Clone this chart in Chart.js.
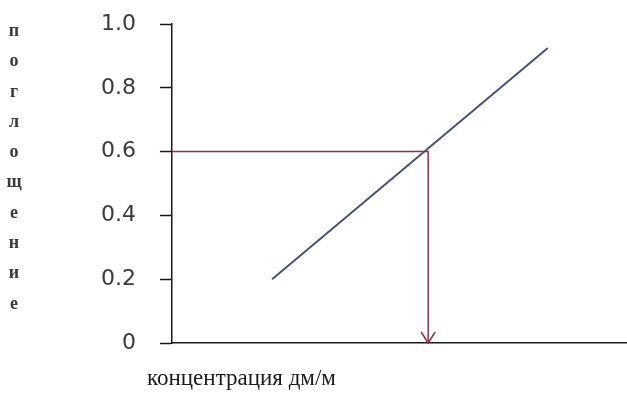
<!DOCTYPE html>
<html>
<head>
<meta charset="utf-8">
<script src="https://cdn.jsdelivr.net/npm/chart.js@4"></script>
<style>
html,body{margin:0;padding:0;background:#fff;}
#wrap{position:relative;width:627px;height:403px;}
#yl{position:absolute;left:6px;top:15px;width:16px;font-family:"Liberation Serif",serif;font-size:18px;font-weight:bold;line-height:30.3px;color:#3a3a3a;text-align:center;}
#xl{position:absolute;left:147px;top:365px;font-family:"Liberation Serif",serif;font-size:23px;line-height:26px;color:#1a1a1a;white-space:nowrap;}
</style>
</head>
<body>
<div id="wrap">
<canvas id="c" width="627" height="403"></canvas>
<div id="yl"></div>
<div id="xl"></div>
</div>
<script>
const yTitle = "поглощение";
const xTitle = "концентрация дм/м";
const yTicks = [0, 0.2, 0.4, 0.6, 0.8, 1.0];
const yTickLabels = ["0", "0.2", "0.4", "0.6", "0.8", "1.0"];
const calibX = [2.2, 8.26];
const calibY = [0.2, 0.925];
const readX = [0, 5.63, 5.63];
const readY = [0.6, 0.6, 0];

document.getElementById('yl').innerHTML = yTitle.split('').map(c => '<div>' + c + '</div>').join('');
document.getElementById('xl').textContent = xTitle;

const toPts = (xs, ys) => xs.map((x, i) => ({x: x, y: ys[i]}));

const arrowPlugin = {
  id: 'arrow',
  afterDatasetsDraw(chart) {
    const meta = chart.getDatasetMeta(1);
    const pts = meta.data;
    const p = pts[pts.length - 1];
    const ctx = chart.ctx;
    ctx.save();
    ctx.strokeStyle = '#8a3344';
    ctx.lineWidth = 1.5;
    ctx.beginPath();
    ctx.moveTo(p.x - 7, p.y - 11);
    ctx.lineTo(p.x, p.y);
    ctx.lineTo(p.x + 7, p.y - 11);
    ctx.stroke();
    ctx.restore();
  }
};

new Chart(document.getElementById('c'), {
  type: 'scatter',
  data: {
    datasets: [
      {data: toPts(calibX, calibY), showLine: true, borderColor: '#4a5075', borderWidth: 2, pointRadius: 0},
      {data: toPts(readX, readY), showLine: true, borderColor: '#8a3344', borderWidth: 1.5, pointRadius: 0}
    ]
  },
  options: {
    responsive: false,
    animation: false,
    events: [],
    layout: {padding: {top: 24, right: 0, left: 0, bottom: 0}},
    plugins: {legend: {display: false}, tooltip: {enabled: false}},
    scales: {
      x: {
        type: 'linear', min: 0, max: 10,
        ticks: {display: false},
        grid: {display: false},
        border: {display: true, color: '#1a1a1a', width: 1.5},
        afterFit(s) { s.height = 60; s.paddingLeft = 0; s.paddingRight = 0; }
      },
      y: {
        type: 'linear', min: 0, max: 1,
        afterBuildTicks(s) { s.ticks = yTicks.map(v => ({value: v})); },
        ticks: {
          callback: (v) => yTickLabels[yTicks.indexOf(v)] ?? '',
          font: {family: 'DejaVu Sans', size: 22},
          color: '#3a3a3a',
          padding: 24
        },
        grid: {display: true, drawOnChartArea: false, drawTicks: true, tickLength: 12, color: '#1a1a1a', tickWidth: 1.5},
        border: {display: true, color: '#1a1a1a', width: 1.5},
        afterFit(s) { s.width = 172; s.paddingTop = 0; s.paddingBottom = 0; }
      }
    }
  },
  plugins: [arrowPlugin]
});
</script>
</body>
</html>
